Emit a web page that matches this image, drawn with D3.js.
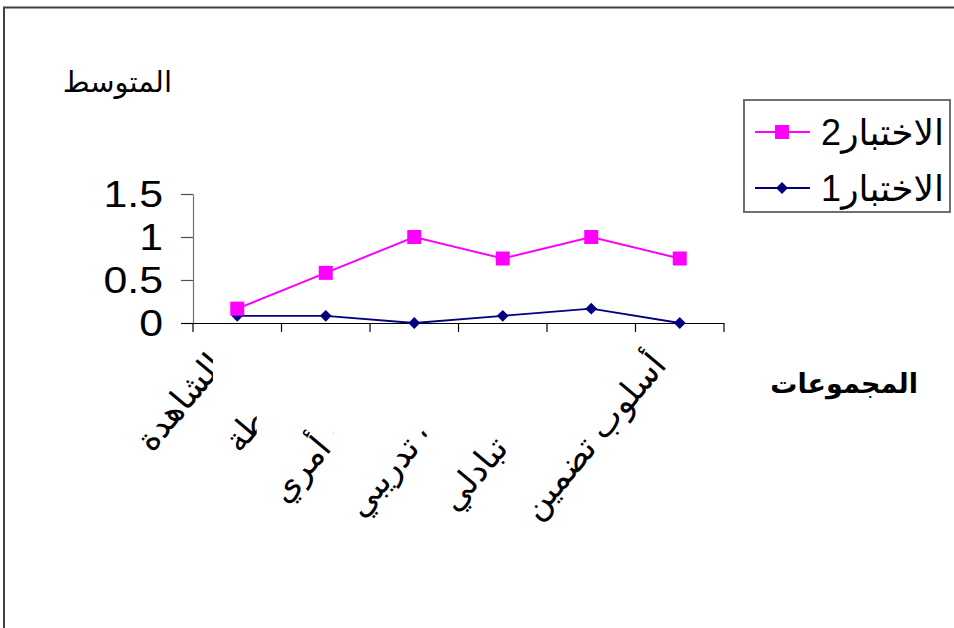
<!DOCTYPE html>
<html>
<head>
<meta charset="utf-8">
<script src="https://cdn.jsdelivr.net/npm/d3@7"></script>
<style>
  html, body { margin: 0; padding: 0; background: #fff; }
  svg { display: block; }
  text { font-family: Arial, "Liberation Sans", "DejaVu Sans", sans-serif; }
</style>
</head>
<body>
<svg id="chart" width="954" height="628"></svg>
<script>
const categories = ["الشاهدة", "الضابطة", "أسلوب أمري", "أسلوب تدريبي", "أسلوب تبادلي", "أسلوب تضمين"];
const test1 = [0.083, 0.083, 0, 0.083, 0.167, 0];
const test2 = [0.167, 0.583, 1, 0.75, 1, 0.75];
const seriesNames = ["الاختبار2", "الاختبار1"];
const yTicks = [0, 0.5, 1, 1.5];
const yTickLabels = ["0", "0.5", "1", "1.5"];
const yTitle = "المتوسط";
const xTitle = "المجموعات";

const svg = d3.select("#chart");

// outer frame
svg.append("rect").attr("x", 4).attr("y", 7.5).attr("width", 1000).attr("height", 700)
  .attr("fill", "none").attr("stroke", "#404040").attr("stroke-width", 2);

const x = d3.scaleBand().domain(categories).range([193, 724]).padding(0);
const y = d3.scaleLinear().domain([0, 1.5]).range([323, 194]);
const cx = c => x(c) + x.bandwidth() / 2;

// category labels, each on an opaque white box drawn in order
categories.forEach((c, i) => {
  const g = svg.append("g");
  const rect = g.append("rect").attr("fill", "#fff");
  const t = g.append("text")
    .attr("transform", `translate(${cx(c) - 12},366) rotate(-50)`)
    .attr("direction", "rtl")
    .attr("text-anchor", "start")
    .attr("font-size", 34)
    .attr("fill", "#000")
    .text(c);
  const bb = t.node().getBoundingClientRect();
  const sb = svg.node().getBoundingClientRect();
  const padL = 3;
  rect.attr("x", bb.left - sb.left - padL).attr("y", bb.top - sb.top)
    .attr("width", bb.width + padL).attr("height", bb.height);
});

// y axis
const yAxis = svg.append("g").attr("transform", "translate(193,0)")
  .call(d3.axisLeft(y).tickValues(yTicks).tickFormat((d, i) => yTickLabels[i]).tickSize(12).tickSizeOuter(0));
yAxis.select(".domain").attr("stroke", "#707070").attr("stroke-width", 1.2);
yAxis.selectAll(".tick line").attr("stroke", "#505050").attr("stroke-width", 1.2);
yAxis.selectAll(".tick text").attr("font-size", 36).attr("fill", "#000").attr("x", 0)
  .attr("transform", "translate(-30,0) scale(1.19,1)")
  .attr("font-family", "Arial, 'Liberation Sans', sans-serif").attr("dy", "0.36em");

// x axis
const xAxis = svg.append("g").attr("transform", "translate(0,323)")
  .call(d3.axisBottom(x).tickSize(0).tickFormat(""));
xAxis.select(".domain").attr("stroke", "#000").attr("stroke-width", 1.2).attr("d", "M181,0.5H724");
const boundaries = categories.map(c => x(c)).concat([x(categories[categories.length - 1]) + x.bandwidth()]);
xAxis.selectAll(".bnd").data(boundaries).join("line").attr("class", "bnd")
  .attr("x1", d => d).attr("x2", d => d).attr("y1", 0).attr("y2", 9)
  .attr("stroke", "#000").attr("stroke-width", 1.2);

// lines
const line = d3.line().x((d, i) => cx(categories[i])).y(d => y(d));
svg.append("path").datum(test1).attr("d", line).attr("fill", "none")
  .attr("stroke", "#000080").attr("stroke-width", 1.8);
svg.append("path").datum(test2).attr("d", line).attr("fill", "none")
  .attr("stroke", "#FF00FF").attr("stroke-width", 2);

svg.selectAll(".m1").data(test1).join("path").attr("class", "m1")
  .attr("transform", (d, i) => `translate(${cx(categories[i])},${y(d)}) rotate(45)`)
  .attr("d", d3.symbol().type(d3.symbolSquare).size(70)).attr("fill", "#000080");
svg.selectAll(".m2").data(test2).join("rect").attr("class", "m2")
  .attr("x", (d, i) => cx(categories[i]) - 7).attr("y", d => y(d) - 7)
  .attr("width", 14).attr("height", 14).attr("fill", "#FF00FF");

// axis titles
svg.append("text").attr("x", 172).attr("y", 92).attr("direction", "rtl").attr("text-anchor", "start")
  .attr("font-size", 29).attr("fill", "#000").text(yTitle);
svg.append("text").attr("x", 918).attr("y", 393).attr("direction", "rtl").attr("text-anchor", "start")
  .attr("font-size", 27).attr("font-weight", "bold").attr("fill", "#000").text(xTitle);

// legend
const lg = svg.append("g");
lg.append("rect").attr("x", 744).attr("y", 100).attr("width", 206).attr("height", 112)
  .attr("fill", "#fff").attr("stroke", "#707070").attr("stroke-width", 2);
const legendItems = [
  { name: seriesNames[0], color: "#FF00FF", marker: "square", y: 132 },
  { name: seriesNames[1], color: "#000080", marker: "diamond", y: 188 }
];
legendItems.forEach(it => {
  lg.append("line").attr("x1", 755).attr("x2", 810).attr("y1", it.y).attr("y2", it.y)
    .attr("stroke", it.color).attr("stroke-width", 2);
  if (it.marker === "square") {
    lg.append("rect").attr("x", 782 - 7).attr("y", it.y - 7).attr("width", 14).attr("height", 14).attr("fill", it.color);
  } else {
    lg.append("path").attr("transform", `translate(782,${it.y}) rotate(45)`)
      .attr("d", d3.symbol().type(d3.symbolSquare).size(70)).attr("fill", it.color);
  }
  lg.append("text").attr("x", 944).attr("y", it.y + 13).attr("direction", "rtl").attr("text-anchor", "start")
    .attr("font-size", 36).attr("fill", "#000").text(it.name);
});
</script>
</body>
</html>
